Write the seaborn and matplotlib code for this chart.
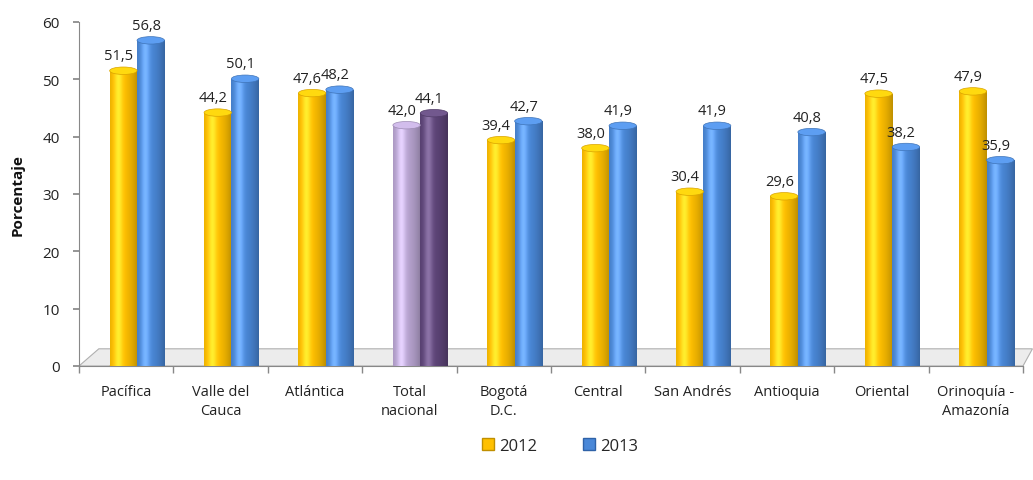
import matplotlib
matplotlib.use("Agg")
import matplotlib.pyplot as plt
import seaborn as sns
import numpy as np
import pandas as pd
from matplotlib.patches import Polygon, Ellipse, Patch
from matplotlib.colors import to_rgb

categories = ["Pacífica", "Valle del\nCauca", "Atlántica", "Total\nnacional", "Bogotá\nD.C.",
              "Central", "San Andrés", "Antioquia", "Oriental", "Orinoquía -\nAmazonía"]
v2012 = [51.5, 44.2, 47.6, 42.0, 39.4, 38.0, 30.4, 29.6, 47.5, 47.9]
v2013 = [56.8, 50.1, 48.2, 44.1, 42.7, 41.9, 41.9, 40.8, 38.2, 35.9]
years = ["2012", "2013"]

col2012 = "#FFC000"
col2013 = "#4A88D8"
tot2012 = "#B9A5D2"
tot2013 = "#5E4579"

df = pd.DataFrame({
    "Región": categories * 2,
    "Año": [years[0]] * len(categories) + [years[1]] * len(categories),
    "Porcentaje": v2012 + v2013,
})

sns.set_theme(style="white")
plt.rcParams['font.family'] = ['Open Sans', 'DejaVu Sans']

fig = plt.figure(figsize=(10.33, 4.81), dpi=100)
ax = fig.add_axes([79 / 1033, 1 - 367 / 481, (1023 - 79) / 1033, (367 - 23) / 481])

sns.barplot(data=df, x="Región", y="Porcentaje", hue="Año", order=categories,
            hue_order=years, palette=[col2012, col2013], width=0.58,
            ax=ax, legend=False, saturation=1)

ax.set_ylim(0, 60)
ax.set_xlim(-0.5, len(categories) - 0.5)

# perspective shift of the bars (3D look)
shift = 0.115

patches = [p for p in ax.patches]
n = len(categories)
for i, p in enumerate(patches):
    cat = i % n
    yr = i // n
    if categories[cat].startswith("Total"):
        p.set_facecolor(tot2012 if yr == 0 else tot2013)
    p.set_x(p.get_x() + shift)
    base = np.array(to_rgb(p.get_facecolor()))
    x0, w, h = p.get_x(), p.get_width(), p.get_height()
    t = np.linspace(0, 1, 64)
    shade = 1 - 0.6 * (t - 0.35) ** 2
    hl = 0.18 * np.exp(-((t - 0.3) / 0.15) ** 2)
    grad = np.clip(base[None, :] * shade[:, None] + hl[:, None], 0, 1)
    img = grad[None, :, :]
    p.set_edgecolor("none")
    im = ax.imshow(img, extent=[x0, x0 + w, 0, h], aspect="auto", zorder=3,
                   interpolation="bilinear")
    im.set_clip_path(p)
    cap = Ellipse((x0 + w / 2, h), w, 1.3, facecolor=np.clip(base * 1.05 + 0.06, 0, 1),
                  edgecolor=np.clip(base * 0.85, 0, 1), linewidth=0.5, zorder=4)
    ax.add_patch(cap)
    bot = Ellipse((x0 + w / 2, 0), w, 1.3, facecolor=base * 0.8, edgecolor="none", zorder=2.9)
    ax.add_patch(bot)
    ax.text(x0 + w / 2 - 0.05, h + 1.3, f"{h:.1f}".replace(".", ","), ha="center", va="bottom",
            fontsize=10.5, color="#222222", zorder=5)

ax.set_xlim(-0.5, len(categories) - 0.5)
ax.set_ylim(0, 60)

# 3D floor
floor = Polygon([(-0.5, 0), (9.5, 0), (9.6, 3.0), (-0.29, 3.0)], closed=True,
                facecolor="#ececec", edgecolor="#b0b0b0", linewidth=0.8, zorder=1,
                clip_on=False)
ax.add_patch(floor)

ax.set_yticks([0, 10, 20, 30, 40, 50, 60])
ax.tick_params(axis="y", labelsize=11, length=4, color="#888888", direction="out", left=True,
               pad=10, labelcolor="#222222")
ax.set_xticks(range(n))
ax.set_xticklabels(categories, fontsize=10.5, color="#222222", linespacing=1.35)
ax.tick_params(axis="x", length=0, pad=13)
ax.set_xticks(np.arange(-0.5, n, 1.0), minor=True)
ax.tick_params(axis="x", which="minor", length=5, color="#888888", direction="out", bottom=True)

for s in ["top", "right"]:
    ax.spines[s].set_visible(False)
for s in ["left", "bottom"]:
    ax.spines[s].set_color("#888888")
    ax.spines[s].set_linewidth(0.8)

ax.set_xlabel("")
ax.set_ylabel("Porcentaje", fontsize=11, fontweight="bold", color="#111111")
ax.yaxis.set_label_coords(-54 / 944, 0.5)

handles = [Patch(facecolor=col2012, edgecolor="#c08f00"), Patch(facecolor=col2013, edgecolor="#2f62a8")]
fig.legend(handles, years, loc="center", bbox_to_anchor=(560 / 1033, 1 - 447 / 481), ncol=2,
           frameon=False, fontsize=12, handlelength=0.7, handleheight=0.7, columnspacing=2.8,
           handletextpad=0.3)

fig.savefig("out.png", dpi=100)
